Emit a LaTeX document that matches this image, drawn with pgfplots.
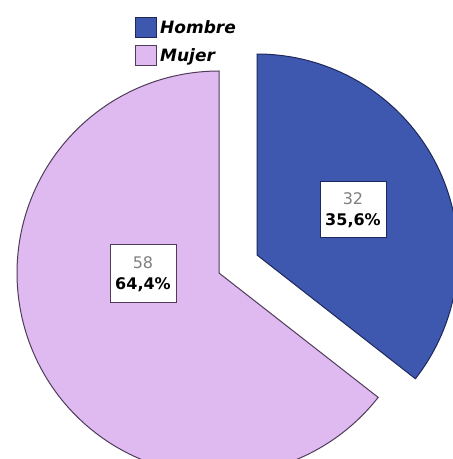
\documentclass[border=0pt]{standalone}
\usepackage{fontspec}
\setmainfont{DejaVu Sans}
\usepackage{pgfplots}
\pgfplotsset{compat=1.18}
\usepackage{pgfplotstable}
\definecolor{hombre}{RGB}{62,88,176}
\definecolor{mujer}{RGB}{222,186,240}
\definecolor{edgeM}{RGB}{80,60,90}
\definecolor{edgeH}{RGB}{30,40,90}
\pgfplotstableread{
sexo n
Hombre 32
Mujer 58
}\datatable
\begin{document}
\begin{tikzpicture}
\pgfplotstablegetelem{0}{n}\of\datatable \let\nH\pgfplotsretval
\pgfplotstablegetelem{1}{n}\of\datatable \let\nM\pgfplotsretval
\pgfmathsetmacro{\aH}{360*\nH/(\nH+\nM)}
\pgfmathsetmacro{\aEnd}{90-\aH}
\pgfmathsetmacro{\aEndM}{450-\aH}
\begin{axis}[
  scale only axis, width=453pt, height=459pt,
  xmin=0, xmax=453, ymin=0, ymax=459,
  hide axis, clip=true,
  legend style={at={(rel axis cs:0.298,0.963)}, anchor=north west, draw=none, fill=none,
    font=\bfseries\itshape\fontsize{17}{19}\selectfont, row sep=7pt, inner sep=0pt,
    nodes={inner xsep=3pt},
    /tikz/every even column/.append style={column sep=0pt}},
  legend cell align=left,
  legend image code/.code={\draw[#1, line width=1pt] (0pt,-10pt) rectangle (21pt,10pt);},
]
\addplot[fill=hombre, draw=edgeH, line width=1pt, domain=\aEnd:90, samples=91, variable=\t]
  ({257+201*cos(\t)}, {204+201*sin(\t)}) -- (axis cs:257,204) -- cycle;
\addlegendentry{Hombre}
\addplot[fill=mujer, draw=edgeM, line width=1pt, domain=90:\aEndM, samples=161, variable=\t]
  ({219+202*cos(\t)}, {186+202*sin(\t)}) -- (axis cs:219,186) -- cycle;
\addlegendentry{Mujer}
\node[fill=white, draw=edgeM, line width=1pt, minimum width=66pt, minimum height=58pt,
  align=center, inner sep=0pt, font=\fontsize{16}{21}\selectfont]
  at (axis cs:143,185) {\textcolor{gray}{58}\\\textbf{64,4\%}};
\node[fill=white, draw=edgeH, line width=1pt, minimum width=66pt, minimum height=56pt,
  align=center, inner sep=0pt, font=\fontsize{16}{21}\selectfont]
  at (axis cs:353,249) {\textcolor{gray}{32}\\\textbf{35,6\%}};
\end{axis}
\pgfresetboundingbox
\path (current axis.south west) rectangle (current axis.north east);
\end{tikzpicture}
\end{document}
